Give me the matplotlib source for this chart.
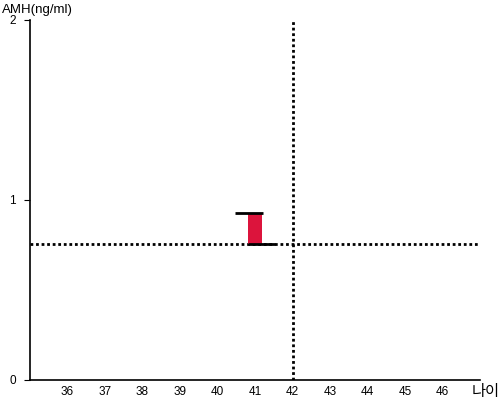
import matplotlib
matplotlib.use("Agg")
import matplotlib.pyplot as plt

ages = [41]
amh_low = [0.755]
amh_high = [0.93]
ref_age = 42
ref_amh = 0.755
xticks = list(range(36, 47))
yticks = [0, 1, 2]

plt.rcParams['font.family'] = ['Liberation Sans', 'Noto Sans CJK KR', 'DejaVu Sans']

fig = plt.figure(figsize=(5, 4), dpi=100)
ax = fig.add_axes([0.06, 0.05, 0.90, 0.90])
ax.set_xlim(35, 47)
ax.set_ylim(0, 2)

for a, lo, hi in zip(ages, amh_low, amh_high):
    ax.bar(a, hi - lo, bottom=lo, width=0.4, color='#DC143C', zorder=3)
    ax.plot([a - 0.53, a + 0.2], [hi, hi], color='black', lw=2, zorder=4, solid_capstyle='butt')
    ax.plot([a - 0.2, a + 0.53], [lo, lo], color='black', lw=2, zorder=4, solid_capstyle='butt')

ax.axhline(ref_amh, color='black', lw=2, ls=(0, (1, 1)), zorder=2)
ax.axvline(ref_age, color='black', lw=2, ls=(0, (1, 1)), zorder=2)

ax.spines['top'].set_visible(False)
ax.spines['right'].set_visible(False)
ax.spines['left'].set_linewidth(1.2)
ax.spines['bottom'].set_linewidth(1.2)
ax.set_xticks(xticks)
ax.set_yticks(yticks)
ax.tick_params(axis='x', length=0, labelsize=8.5, pad=4)
ax.tick_params(axis='y', length=4, labelsize=8.5, pad=6)

fig.text(0.004, 0.975, 'AMH(ng/ml)', fontsize=9.5, ha='left', va='center')
fig.text(0.944, 0.022, '나이', fontsize=11, ha='left', va='center',
         family=['Noto Sans CJK KR', 'DejaVu Sans'])

fig.savefig('out.png', dpi=100)
